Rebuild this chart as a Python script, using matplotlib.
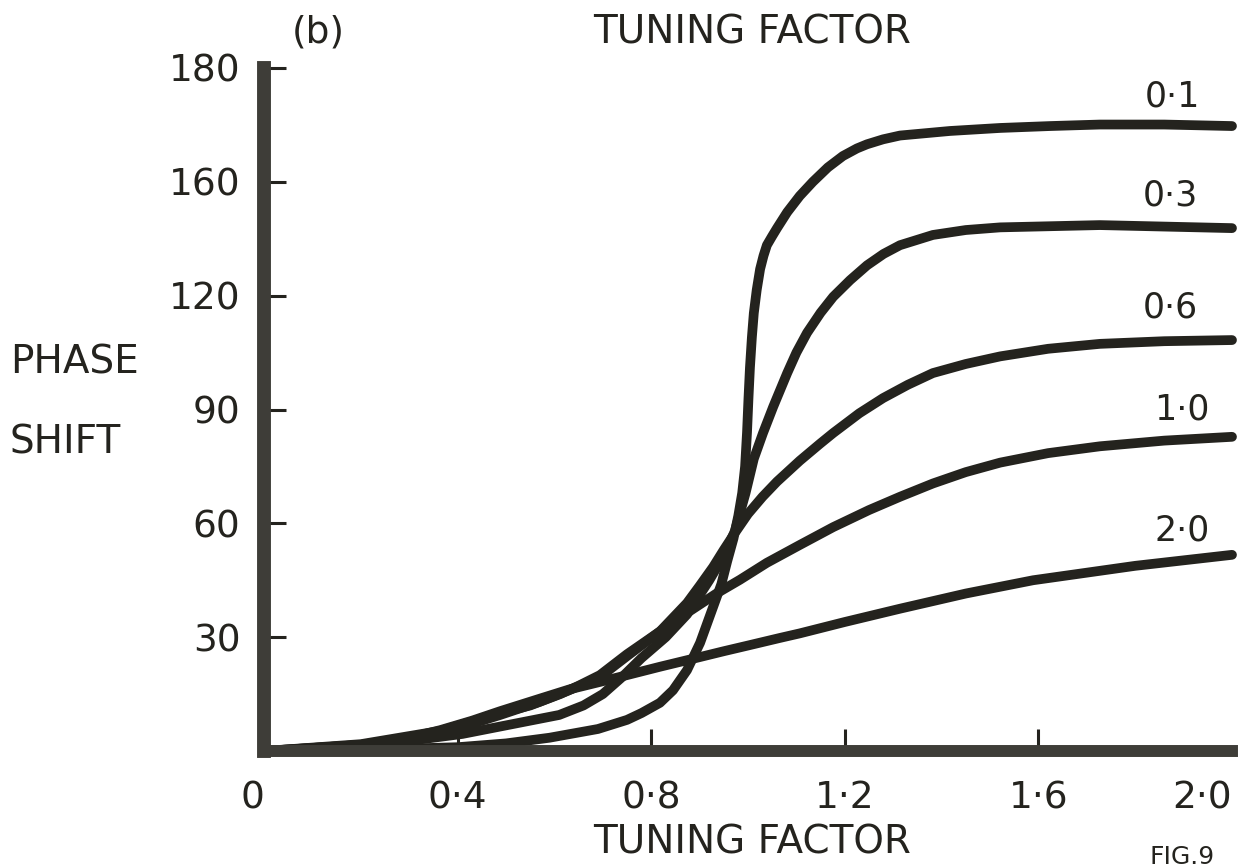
import matplotlib
matplotlib.use("Agg")
import matplotlib.pyplot as plt

# ---------------- data ----------------
x_d01 = [0, 0.2, 0.4, 0.5, 0.59, 0.69, 0.75, 0.78, 0.818, 0.845, 0.874, 0.901, 0.928, 0.945, 0.957,
         0.97, 0.98, 0.988, 0.994, 0.998, 1.001, 1.004, 1.008, 1.012, 1.018, 1.025, 1.032, 1.039,
         1.05, 1.06, 1.081, 1.107, 1.134, 1.165, 1.196, 1.225, 1.246, 1.279, 1.314, 1.417, 1.521,
         1.624, 1.727, 1.86, 2.0]
y_d01 = [0, 0.3, 1.0, 2.0, 3.5, 5.8, 8.2, 10.0, 12.7, 16.0, 21.3, 28.5, 38.0, 44.0, 50.0,
         56.0, 62.0, 68.0, 75.0, 84.0, 93.0, 101.0, 109.0, 115.4, 121.5, 127.0, 130.5, 133.3,
         135.7, 137.8, 142.0, 146.3, 150.0, 153.8, 156.8, 158.8, 159.9, 161.2, 162.2, 163.4, 164.2,
         164.7, 165.1, 165.1, 164.7]

x_d03 = [0, 0.2, 0.41, 0.49, 0.61, 0.66, 0.70, 0.74, 0.78, 0.83, 0.874, 0.92, 0.95, 0.973, 0.995,
         1.012, 1.031, 1.052, 1.066, 1.081, 1.10, 1.122, 1.15, 1.176, 1.211, 1.246, 1.28, 1.314,
         1.382, 1.45, 1.521, 1.727, 2.0]
y_d03 = [0, 1.0, 4.5, 6.5, 9.5, 12.0, 15.0, 19.5, 24.5, 30.0, 36.0, 45.0, 51.5, 58.0, 68.0,
         77.0, 83.8, 90.7, 95.0, 99.6, 105.0, 110.2, 115.5, 119.7, 124.1, 128.0, 131.0, 133.3,
         136.0, 137.3, 138.0, 138.6, 137.8]

x_d06 = [0, 0.2, 0.364, 0.43, 0.488, 0.57, 0.63, 0.694, 0.75, 0.818, 0.874, 0.90, 0.928, 0.95,
         0.973, 1.0, 1.03, 1.06, 1.107, 1.149, 1.176, 1.23, 1.279, 1.33, 1.382, 1.45, 1.521, 1.62,
         1.727, 1.86, 2.0]
y_d06 = [0, 1.6, 5.0, 7.2, 9.5, 13.0, 16.0, 19.5, 25.0, 31.5, 39.0, 43.5, 48.5, 53.0,
         57.5, 62.5, 67.0, 71.0, 76.5, 81.0, 83.8, 89.0, 93.0, 96.5, 99.6, 102.0, 104.0, 106.0,
         107.3, 108.0, 108.3]

x_d10 = [0, 0.2, 0.364, 0.488, 0.55, 0.612, 0.65, 0.694, 0.75, 0.818, 0.874, 0.936, 0.983, 1.039,
         1.107, 1.176, 1.25, 1.314, 1.382, 1.45, 1.521, 1.62, 1.727, 1.86, 2.0]
y_d10 = [0, 1.8, 5.3, 10.0, 12.0, 15.0, 17.2, 20.0, 25.5, 31.5, 36.4, 41.6, 45.1, 49.6,
         54.3, 59.0, 63.5, 67.0, 70.5, 73.5, 76.0, 78.5, 80.3, 81.8, 82.8]

x_d20 = [0, 0.2, 0.3, 0.364, 0.43, 0.488, 0.57, 0.63, 0.694, 0.75, 0.818, 0.886, 0.95, 1.0,
         1.066, 1.107, 1.2, 1.314, 1.45, 1.589, 1.8, 2.0]
y_d20 = [0, 1.6, 3.5, 5.5, 8.0, 10.5, 13.8, 16.2, 18.2, 20.0, 22.2, 24.3, 26.3, 27.8,
         29.8, 31.0, 34.0, 37.5, 41.5, 45.0, 48.8, 51.7]

curve_labels = ["0·1", "0·3", "0·6", "1·0", "2·0"]

x_ticks = [0, 0.4, 0.8, 1.2, 1.6, 2.0]
x_tick_labels = ["0", "0·4", "0·8", "1·2", "1·6", "2·0"]
y_ticks = [30, 60, 90, 120, 150, 180]
y_tick_labels = ["30", "60", "90", "120", "160", "180"]

# ---------------- style ----------------
INK = "#24231e"
SPINE = "#3e3d38"
FONT = "DejaVu Sans"
plt.rcParams["font.family"] = [FONT]

W, H = 1244, 867
fig = plt.figure(figsize=(W / 100, H / 100), dpi=100)
fig.patch.set_facecolor("white")
ax = fig.add_axes([264 / W, (H - 751) / H, (1232 - 264) / W, (751 - 68) / H])

curves = [(x_d01, y_d01), (x_d03, y_d03), (x_d06, y_d06), (x_d10, y_d10), (x_d20, y_d20)]
for xs, ys in curves:
    ax.plot(xs, ys, color=INK, lw=7.0, solid_capstyle="round", solid_joinstyle="round",
            clip_on=False, zorder=3)

ax.set_xlim(0, 2.0)
ax.set_ylim(0, 180)

for s in ("top", "right"):
    ax.spines[s].set_visible(False)
ax.spines["left"].set_linewidth(10)
ax.spines["bottom"].set_linewidth(8.6)
for s in ("left", "bottom"):
    ax.spines[s].set_color(SPINE)
    ax.spines[s].set_capstyle("projecting")
    ax.spines[s].set_zorder(4)

ax.set_xticks(x_ticks)
ax.set_xticklabels(x_tick_labels)
ax.set_yticks(y_ticks)
ax.set_yticklabels(y_tick_labels)
ax.tick_params(axis="both", direction="in", length=16, width=2.2, color=INK,
               labelsize=27, labelcolor=INK)
ax.tick_params(axis="y", pad=17)
ax.tick_params(axis="x", pad=21)
xt = ax.xaxis.get_major_ticks()
xt[0].tick1line.set_visible(False)
xt[-1].tick1line.set_visible(False)
lbls = ax.get_xticklabels()
lbls[0].set_ha("right")
lbls[-1].set_ha("right")

# curve labels
label_pos = [(1.876, 172.4), (1.872, 146.5), (1.872, 117.0), (1.897, 89.9), (1.897, 58.0)]
for txt, (lx, ly) in zip(curve_labels, label_pos):
    ax.text(lx, ly, txt, fontsize=25, color=INK, ha="center", va="center")

# titles / axis labels
fig.text(318 / W, 1 - 33 / H, "(b)", fontsize=27, color=INK, ha="center", va="center")
fig.text(752 / W, 1 - 33 / H, "TUNING FACTOR", fontsize=28, color=INK, ha="center", va="center")
fig.text(752 / W, 1 - 843 / H, "TUNING FACTOR", fontsize=28, color=INK, ha="center", va="center")
fig.text(10 / W, 1 - 362 / H, "PHASE", fontsize=28, color=INK, ha="left", va="center")
fig.text(10 / W, 1 - 443 / H, "SHIFT", fontsize=28, color=INK, ha="left", va="center")
fig.text(1150 / W, 1 - 845 / H, "FIG.9", fontsize=18, color=INK, ha="left", va="top")

fig.savefig("out.png", dpi=100, facecolor="white")
